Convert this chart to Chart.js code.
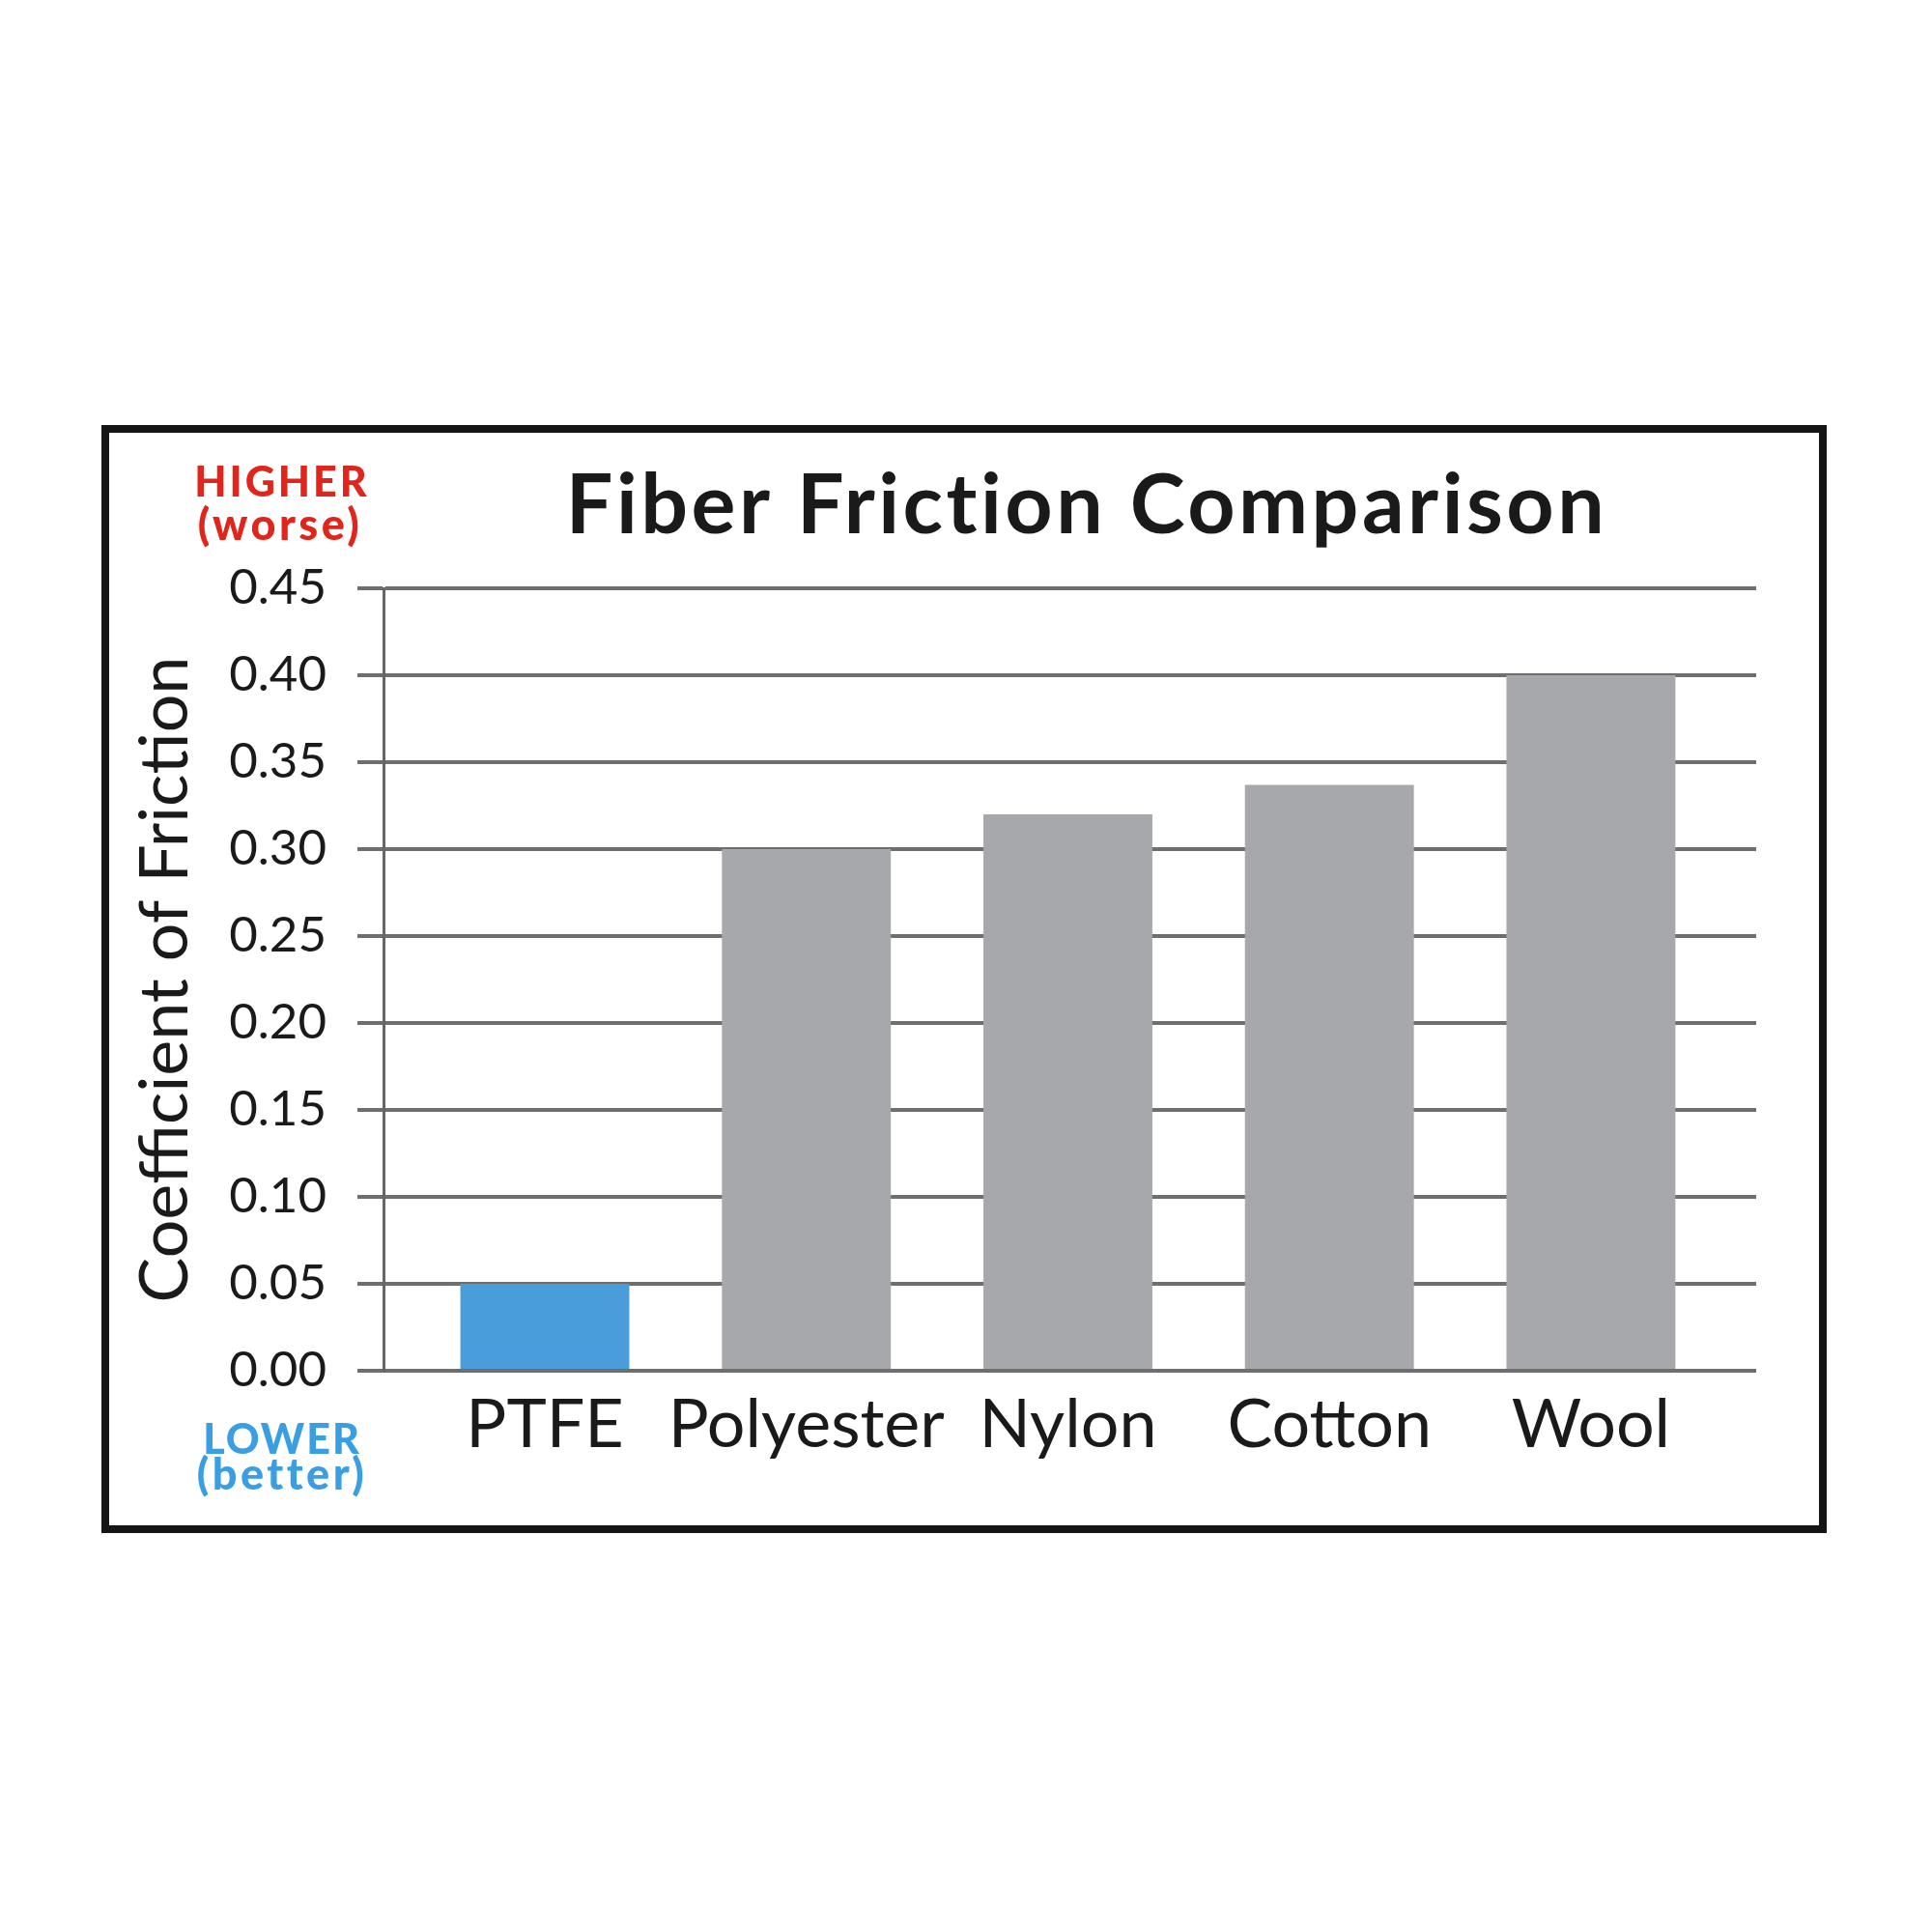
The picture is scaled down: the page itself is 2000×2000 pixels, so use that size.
<!DOCTYPE html>
<html><head><meta charset="utf-8">
<script src="https://cdn.jsdelivr.net/npm/chart.js@4/dist/chart.umd.min.js"></script>
<style>html,body{margin:0;padding:0;background:#fff}canvas{display:block}</style>
</head><body>
<canvas id="c" width="2000" height="2000"></canvas>
<script>
const categories = ['PTFE', 'Polyester', 'Nylon', 'Cotton', 'Wool'];
const frictionValues = [0.05, 0.30, 0.32, 0.337, 0.40];
const highlightCategory = 'PTFE';
const chartTitle = 'Fiber Friction Comparison';
const yAxisTitle = 'Coefficient of Friction';
const higherLabel = ['HIGHER', '(worse)'];
const lowerLabel = ['LOWER', '(better)'];

const FONT = 'Lato, "DejaVu Sans", sans-serif';
const TEXT = '#1a1a1a';

const decor = {
  id: 'decor',
  beforeDraw(chart) {
    const ctx = chart.ctx;
    ctx.save();
    ctx.fillStyle = '#fff';
    ctx.fillRect(0, 0, chart.width, chart.height);
    ctx.restore();
  },
  afterDraw(chart) {
    const ctx = chart.ctx;
    ctx.save();
    ctx.strokeStyle = '#151515';
    ctx.lineWidth = 8;
    ctx.strokeRect(109, 444, 1778, 1139);
    ctx.textAlign = 'center';
    ctx.textBaseline = 'alphabetic';
    ctx.fillStyle = TEXT;
    ctx.font = 'bold 86px ' + FONT;
    ctx.letterSpacing = '3.5px';
    ctx.fillText(chartTitle, 1125, 552);
    ctx.fillStyle = '#e1251b';
    ctx.font = '900 43px ' + FONT;
    ctx.letterSpacing = '3px';
    ctx.fillText(higherLabel[0], 292, 514);
    ctx.font = '900 45px ' + FONT;
    ctx.letterSpacing = '3.5px';
    ctx.fillText(higherLabel[1], 290, 559);
    ctx.fillStyle = '#3a9fe2';
    ctx.font = '900 43px ' + FONT;
    ctx.letterSpacing = '2px';
    ctx.fillText(lowerLabel[0], 292, 1505);
    ctx.font = '900 45px ' + FONT;
    ctx.letterSpacing = '3.5px';
    ctx.fillText(lowerLabel[1], 292, 1542);
    ctx.restore();
  }
};

new Chart(document.getElementById('c'), {
  type: 'bar',
  data: {
    datasets: [{
      data: categories.map((c, i) => ({ x: i, y: frictionValues[i] })),
      backgroundColor: categories.map(c => c === highlightCategory ? '#4a9ddb' : '#a7a8ab'),
      borderWidth: 0,
      barPercentage: 0.646,
      categoryPercentage: 1
    }]
  },
  options: {
    responsive: false,
    animation: false,
    devicePixelRatio: 1,
    layout: { padding: { top: 609, left: 105, right: 182, bottom: 421 } },
    plugins: { legend: { display: false }, title: { display: false }, tooltip: { enabled: false } },
    scales: {
      x: {
        type: 'linear',
        min: -0.617,
        max: 4.632,
        offset: false,
        grid: { display: false, drawTicks: false },
        border: { display: false },
        afterBuildTicks: s => { s.ticks = categories.map((_, i) => ({ value: i })); },
        afterFit: s => { s.height = 160; },
        ticks: {
          callback: v => categories[v] ?? '',
          autoSkip: false, maxRotation: 0,
          font: { family: FONT, size: 70 },
          color: TEXT,
          padding: 14
        }
      },
      y: {
        min: 0,
        max: 0.45,
        afterFit: s => { s.width = 292; },
        ticks: {
          stepSize: 0.05,
          callback: v => Number(v).toFixed(2),
          font: { family: FONT, size: 51 },
          color: TEXT,
          padding: 32
        },
        grid: { color: '#6e6e6e', lineWidth: 4, tickLength: 27 },
        border: { display: true, color: '#666', width: 3 },
        title: {
          display: true,
          text: yAxisTitle,
          font: { family: FONT, size: 70 },
          color: TEXT,
          padding: { top: 24, bottom: 0 }
        }
      }
    }
  },
  plugins: [decor]
});
</script>
</body></html>
